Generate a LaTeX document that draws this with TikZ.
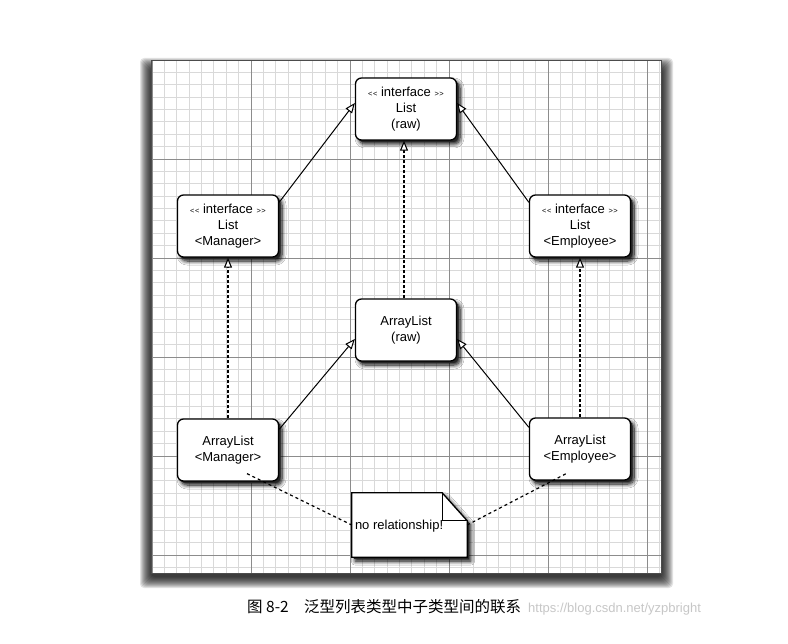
\documentclass[tikz,border=0pt]{standalone}
\usepackage{fontspec}
\setmainfont{Liberation Sans}[Ligatures=NoCommon]
\setsansfont{Liberation Sans}
\newfontfamily\cjk{Noto Sans CJK SC}
\usetikzlibrary{arrows.meta,shadows.blur}
\tikzset{
  boxshadow/.style={
    blur shadow={shadow xshift=3.5pt, shadow yshift=-4pt, shadow blur radius=4pt, shadow opacity=100, shadow blur steps=8},
    drop shadow={shadow xshift=2pt, shadow yshift=-2pt, fill=black!85, opacity=1}},
  cls/.style={draw=black, line width=1.3pt, fill=white, rounded corners=6pt,
    minimum width=101pt, minimum height=62pt, inner sep=0pt, align=center,
    font=\fontsize{13}{16}\selectfont, boxshadow},
  gen/.style={line width=1pt, -{Triangle[open, length=10pt, width=8pt, fill=white]}},
  real/.style={gen, dash pattern=on 3pt off 2pt, line width=1.1pt},
  link/.style={line width=1.2pt, dash pattern=on 3pt off 3pt},
  minorgrid/.style={draw=black!15, line width=0.8pt},
  majorgrid/.style={draw=black!45, line width=0.9pt},
}
\newcommand{\gm}[1]{{\fontsize{7.5}{8}\selectfont #1}}
\begin{document}
\begin{tikzpicture}[x=1pt,y=-1pt]
\useasboundingbox (0,0) rectangle (788,644);
\fill[white] (0,0) rectangle (788,644);
% frame shadow (soft band)
\foreach \r in {1,...,12} {
  \fill[black, opacity=0.11, rounded corners=4pt] ({152-13+\r},{61-4+\r}) rectangle ({661+13-\r},{573+16-\r});
}
\node[minimum width=509pt, minimum height=512pt, inner sep=0pt, fill=white] (frame) at (406.5,317) {};
\begin{scope}
\clip (152,61) rectangle (661,573);
\foreach \i in {0,...,44} {
  \draw[minorgrid] ({152+12.375*\i},61) -- ({152+12.375*\i},573);
  \draw[minorgrid] (152,{60+12.375*\i}) -- (661,{60+12.375*\i});
}
\foreach \i in {0,...,5} {
  \draw[majorgrid] ({152+99*\i},61) -- ({152+99*\i},573);
  \draw[majorgrid] (152,{60+99*\i}) -- (661,{60+99*\i});
}
\end{scope}
\draw[black!70, line width=0.8pt] (frame.north west) rectangle (frame.south east);
% class boxes
\node[cls] (lraw) at (406,109) {\gm{<\kern0.5pt<} interface \gm{>\kern0.5pt>}\\List\\(raw)};
\node[cls] (lman) at (228,226) {\gm{<\kern0.5pt<} interface \gm{>\kern0.5pt>}\\List\\<Manager>};
\node[cls] (lemp) at (580,226) {\gm{<\kern0.5pt<} interface \gm{>\kern0.5pt>}\\List\\<Employee>};
\node[cls] (araw) at (406,330) {ArrayList\\(raw)};
\node[cls] (aman) at (228,450) {ArrayList\\<Manager>};
\node[cls] (aemp) at (580,449) {ArrayList\\<Employee>};
% note
\node[minimum width=115pt, minimum height=64pt, inner sep=0pt] (note) at (409.5,525) {};
\fill[white, boxshadow]
  (note.north west) -- ([xshift=-25pt]note.north east) -- ([yshift=-28pt]note.north east)
  -- (note.south east) -- (note.south west) -- cycle;
\draw[line width=1.3pt, line join=miter]
  (note.north west) -- ([xshift=-25pt]note.north east) -- ([yshift=-28pt]note.north east)
  -- (note.south east) -- (note.south west) -- cycle;
\draw[line width=1.1pt] ([xshift=-25pt]note.north east) -- ([xshift=-25pt,yshift=-28pt]note.north east)
  -- ([yshift=-28pt]note.north east);
\node[anchor=west, inner sep=0pt, font=\fontsize{13}{16}\selectfont] (notetext)
  at ([xshift=3pt,yshift=-1pt]note.west) {no relationship!};
% inheritance / realization
\draw[real] (aman.north) -- (lman.south);
\draw[real] (aemp.north) -- (lemp.south);
\draw[real] ([xshift=-2pt]araw.north) -- ([xshift=-2pt]lraw.south);
\draw[gen] ([yshift=-8pt]lman.north east) -- ([yshift=6pt]lraw.west);
\draw[gen] ([yshift=-8pt]lemp.north west) -- ([yshift=6pt]lraw.east);
\draw[gen] ([yshift=-11pt]aman.north east) -- ([yshift=-9pt]araw.west);
\draw[gen] ([yshift=-10pt]aemp.north west) -- ([yshift=-9pt]araw.east);
% note links
\draw[link] ([xshift=19pt,yshift=8pt]aman.south) -- (note.west);
\draw[link] (note.east) -- ([xshift=-12pt,yshift=8pt]aemp.south);
% caption
\node[anchor=west, inner sep=0pt, font=\cjk\fontsize{15.5}{17}\selectfont] (cap1) at (247,607) {图 8-2};
\node[anchor=west, inner sep=0pt, font=\cjk\fontsize{15.5}{17}\selectfont] (cap2) at (304,607) {泛型列表类型中子类型间的联系};
\node[anchor=west, inner sep=0pt, text=black!22, font=\fontsize{13}{15}\selectfont] (wm) at (528,609) {https://blog.csdn.net/yzpbright};
\end{tikzpicture}
\end{document}
